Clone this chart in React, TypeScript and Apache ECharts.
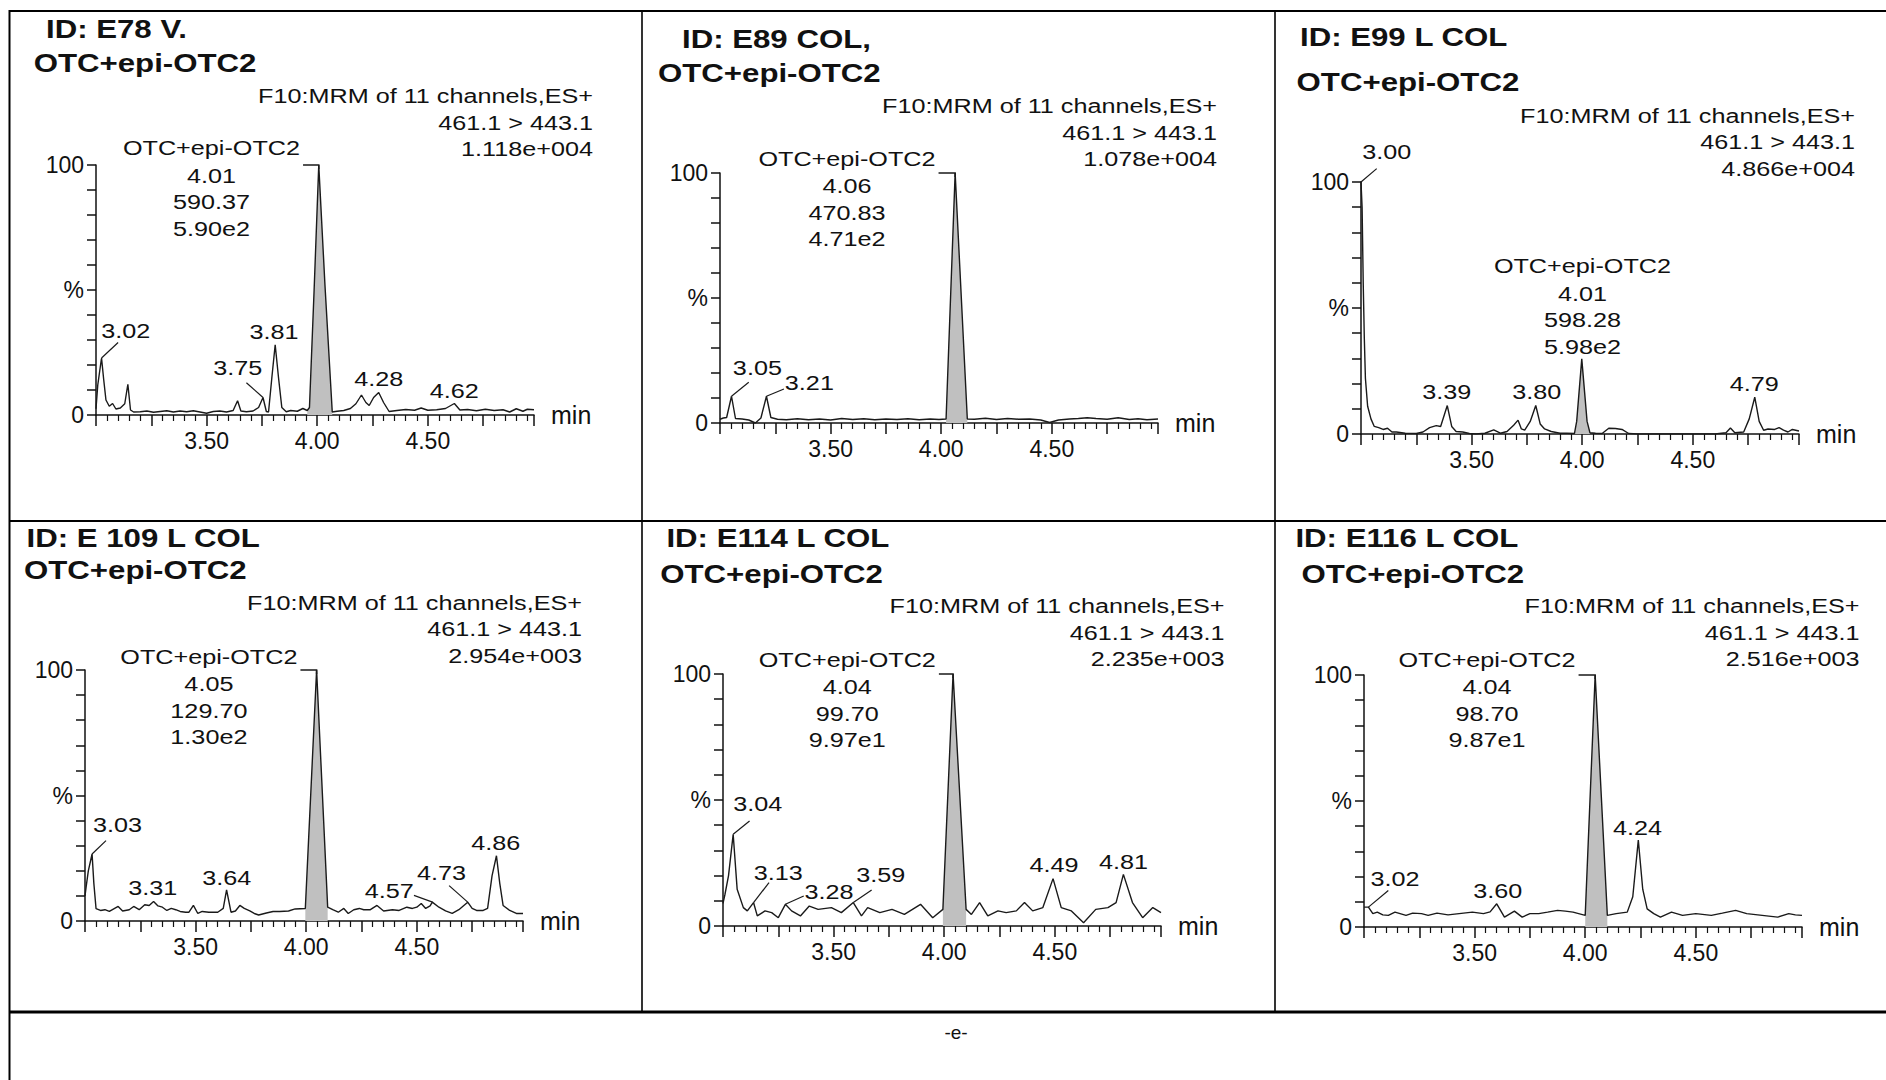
import React, { useEffect, useRef } from "react";
import * as echarts from "echarts";

// ---------- text content ----------
const sampleIds = ["ID: E78 V.", "ID: E89 COL,", "ID: E99 L COL", "ID: E 109 L COL", "ID: E114 L COL", "ID: E116 L COL"];
const compound = "OTC+epi-OTC2";
const headerLine1 = "F10:MRM of 11 channels,ES+";
const headerLine2 = "461.1 > 443.1";
const intensities = ["1.118e+004", "1.078e+004", "4.866e+004", "2.954e+003", "2.235e+003", "2.516e+003"];
const mainRT = ["4.01", "4.06", "4.01", "4.05", "4.04", "4.04"];
const mainArea = ["590.37", "470.83", "598.28", "129.70", "99.70", "98.70"];
const mainHeight = ["5.90e2", "4.71e2", "5.98e2", "1.30e2", "9.97e1", "9.87e1"];
const footerText = "-e-";

// ---------- axes ----------
const X_MIN = 3.0;
const X_MAX = 4.98;
const xLabelValues = [3.5, 4.0, 4.5];
const yLabelValues: [number, string][] = [[0, "0"], [50, "%"], [100, "100"]];

// ---------- traces: [time (min), % of max] ----------
const trace1 = [
  [3.0, 2.5], [3.008, 12], [3.025, 22.8], [3.035, 14], [3.045, 6], [3.06, 3.5], [3.075, 4.6], [3.09, 2.4], [3.11, 2.8],
  [3.13, 4.5], [3.144, 12.3], [3.156, 2], [3.17, 1.2], [3.2, 1.3], [3.23, 1.6], [3.26, 1.1], [3.29, 1.4], [3.32, 1.7],
  [3.35, 1.2], [3.38, 1.6], [3.41, 1.3], [3.44, 1.7], [3.47, 1.2], [3.5, 0.7], [3.53, 1.4], [3.56, 1.6], [3.59, 1.2],
  [3.62, 1.8], [3.64, 5.7], [3.655, 1.6], [3.68, 1.3], [3.71, 1.6], [3.735, 3], [3.755, 7], [3.77, 1.4], [3.78, 1.2],
  [3.795, 15], [3.81, 28.1], [3.825, 15], [3.84, 3], [3.86, 1.3], [3.88, 1.8], [3.91, 1.5], [3.935, 2.6], [3.955, 1.8],
  [3.965, 3], [3.986, 50], [4.007, 100], [4.035, 52], [4.068, 1.2], [4.09, 1.5], [4.12, 1.8], [4.15, 2.6], [4.175, 4.5],
  [4.2, 8], [4.22, 5], [4.235, 3.8], [4.255, 7], [4.278, 9], [4.3, 5], [4.325, 1.4], [4.36, 1.8], [4.4, 2.2], [4.44, 1.9],
  [4.47, 2.8], [4.5, 1.9], [4.54, 2.1], [4.58, 2.6], [4.62, 4.6], [4.645, 2], [4.68, 2.2], [4.72, 1.7], [4.76, 2.3],
  [4.8, 1.8], [4.84, 2.1], [4.87, 1.2], [4.9, 2.5], [4.93, 1.5], [4.95, 2.3], [4.98, 2.1],
];
const trace2 = [
  [3.0, 1.5], [3.015, 2], [3.03, 2.2], [3.052, 10.7], [3.07, 1.8], [3.1, 1.6], [3.13, 1.2], [3.16, 0], [3.185, 2],
  [3.21, 10.7], [3.23, 2.2], [3.26, 1.5], [3.3, 1.3], [3.35, 1.7], [3.4, 1.3], [3.45, 1.6], [3.5, 1.2], [3.55, 1.8],
  [3.6, 1.4], [3.65, 1.7], [3.7, 1.3], [3.75, 1.6], [3.8, 1.4], [3.85, 1.7], [3.9, 1.3], [3.95, 1.6], [3.99, 1.4],
  [4.022, 1.6], [4.063, 100], [4.118, 1.6], [4.15, 1.5], [4.2, 1.9], [4.25, 1.4], [4.3, 1.8], [4.35, 1.5], [4.4, 1.6],
  [4.45, 1.2], [4.49, 0.2], [4.53, 1.2], [4.58, 1.6], [4.62, 1.8], [4.66, 2.1], [4.7, 1.8], [4.75, 1.5], [4.8, 2.1],
  [4.85, 1.4], [4.89, 1.7], [4.93, 1.3], [4.98, 1.6],
];
const trace3 = [
  [3.0, 100], [3.005, 90], [3.01, 60], [3.015, 38], [3.02, 22], [3.03, 11], [3.045, 6], [3.06, 3], [3.08, 2.5],
  [3.1, 1.8], [3.12, 2.3], [3.14, 0.8], [3.16, 0.8], [3.2, 0.3], [3.25, 0.2], [3.28, 0.8], [3.31, 2.5], [3.34, 3.3],
  [3.36, 3], [3.39, 11.3], [3.41, 3], [3.43, 1], [3.46, 0.8], [3.49, 0.2], [3.52, 0], [3.56, 0.3], [3.6, 1.6],
  [3.63, 0.3], [3.66, 1], [3.69, 3.5], [3.71, 5.5], [3.725, 2], [3.74, 1.5], [3.765, 5], [3.79, 11.3], [3.81, 4],
  [3.83, 2], [3.86, 1], [3.9, 0.3], [3.93, 0.3], [3.965, 0.2], [3.975, 5], [3.998, 29.8], [4.022, 5], [4.035, 0.5],
  [4.06, 0.3], [4.09, 0.2], [4.12, 2.3], [4.15, 2.2], [4.18, 1.8], [4.21, 0.2], [4.25, 0], [4.3, 0], [4.4, 0],
  [4.5, 0], [4.6, 0], [4.65, 0.5], [4.67, 2.4], [4.69, 0.5], [4.73, 0.8], [4.755, 6], [4.78, 14.6], [4.8, 5],
  [4.82, 1.5], [4.84, 2], [4.87, 1.8], [4.89, 2.5], [4.91, 1.5], [4.93, 0.8], [4.95, 1.8], [4.98, 1.2],
];
const trace4 = [
  [3.0, 10], [3.005, 13.5], [3.015, 20], [3.032, 26.7], [3.04, 15], [3.05, 4.9], [3.07, 4.2], [3.09, 4.5], [3.11, 3.8],
  [3.13, 4.8], [3.15, 5.8], [3.17, 4], [3.2, 4.5], [3.22, 5.8], [3.245, 4.5], [3.27, 6.5], [3.29, 6.2], [3.31, 7.8],
  [3.33, 6], [3.35, 5.5], [3.37, 4.2], [3.39, 5], [3.41, 4.5], [3.43, 3.8], [3.455, 3.5], [3.47, 3.5], [3.49, 6.2],
  [3.51, 3], [3.53, 3.8], [3.56, 3.5], [3.6, 3.5], [3.625, 5], [3.64, 12.4], [3.66, 3.5], [3.68, 4], [3.7, 6.2],
  [3.72, 5], [3.745, 4], [3.765, 3], [3.785, 2.4], [3.82, 3.2], [3.85, 3.8], [3.88, 3.8], [3.92, 4], [3.95, 4.8],
  [3.996, 5], [4.047, 100], [4.097, 5.5], [4.12, 4.5], [4.145, 3.5], [4.17, 5], [4.19, 3], [4.215, 4.5], [4.24, 5],
  [4.26, 4.5], [4.29, 4.5], [4.32, 6.2], [4.35, 4], [4.39, 4.5], [4.42, 4.2], [4.455, 5.5], [4.48, 5], [4.5, 5.5],
  [4.52, 7], [4.54, 5], [4.56, 6], [4.57, 7.5], [4.6, 5.5], [4.63, 4], [4.66, 3], [4.69, 4.5], [4.71, 6], [4.73, 7.5],
  [4.75, 5], [4.77, 4.2], [4.8, 4.2], [4.82, 5], [4.84, 18], [4.86, 26], [4.875, 15], [4.89, 6.2], [4.92, 4.2],
  [4.95, 3], [4.98, 3],
];
const trace5 = [
  [3.0, 9], [3.009, 12.6], [3.025, 20], [3.046, 36.4], [3.064, 14.6], [3.092, 7.3], [3.11, 6], [3.138, 9.3],
  [3.155, 4], [3.19, 6], [3.22, 5.3], [3.25, 3.3], [3.282, 8.6], [3.31, 6], [3.35, 4], [3.39, 7.9], [3.43, 6.6],
  [3.49, 7.3], [3.535, 5.3], [3.589, 9.3], [3.626, 4], [3.654, 7.3], [3.709, 5.3], [3.764, 6.6], [3.82, 4.6],
  [3.893, 8.6], [3.948, 3.3], [3.994, 6.6], [4.04, 100], [4.099, 6.6], [4.123, 4.6], [4.16, 9.3], [4.197, 4],
  [4.243, 6], [4.28, 5.3], [4.326, 6], [4.363, 9.3], [4.4, 6], [4.446, 7.3], [4.492, 18.8], [4.529, 7.3],
  [4.575, 6], [4.63, 1.3], [4.685, 6.6], [4.74, 7.3], [4.777, 9.3], [4.81, 20.5], [4.851, 9.3], [4.897, 3.3],
  [4.943, 7.3], [4.98, 5.3],
];
const trace6 = [
  [3.0, 7.9], [3.02, 7.9], [3.04, 5.3], [3.06, 5.9], [3.085, 4.8], [3.11, 4.6], [3.14, 5.9], [3.19, 4.6], [3.22, 5.5],
  [3.26, 5.3], [3.29, 4.6], [3.33, 5.5], [3.38, 4.8], [3.43, 5.3], [3.49, 5.9], [3.54, 5.3], [3.57, 6], [3.6, 9.2],
  [3.635, 3.9], [3.68, 6.3], [3.715, 3.9], [3.75, 5.3], [3.79, 5.3], [3.83, 5.9], [3.875, 6.6], [3.91, 6.3],
  [3.945, 5.9], [4.0, 4.6], [4.045, 100], [4.1, 4.6], [4.14, 5.3], [4.19, 5.9], [4.215, 12], [4.24, 34.5],
  [4.26, 15], [4.28, 7.2], [4.31, 5.3], [4.34, 3.9], [4.39, 5.9], [4.44, 4.6], [4.5, 5.3], [4.57, 4.6], [4.62, 5.5],
  [4.68, 6.6], [4.73, 5.3], [4.8, 4.6], [4.87, 3.9], [4.92, 5.3], [4.95, 4.8], [4.98, 4.6],
];
const traces = [trace1, trace2, trace3, trace4, trace5, trace6];

// integrated (shaded) peak range per panel, min
const fillRanges = [[3.955, 4.068], [4.022, 4.118], [3.965, 4.035], [3.996, 4.097], [3.994, 4.099], [4.0, 4.1]];
const mainPeakX = [4.007, 4.063, 3.998, 4.047, 4.04, 4.045];

// small peak annotations: text, label centre [t, %], optional leader from/to [t, %]
type PeakLabel = { text: string; at: number[]; from?: number[]; to?: number[] };
const peaks1: PeakLabel[] = [
  { text: "3.02", at: [3.134, 33.6], from: [3.025, 22.8], to: [3.1, 29] },
  { text: "3.81", at: [3.805, 33.2] },
  { text: "3.75", at: [3.641, 18.8], from: [3.755, 7], to: [3.68, 12.9] },
  { text: "4.28", at: [4.278, 14.4] },
  { text: "4.62", at: [4.62, 9.6] },
];
const peaks2: PeakLabel[] = [
  { text: "3.05", at: [3.169, 22.1], from: [3.052, 10.7], to: [3.13, 16.3] },
  { text: "3.21", at: [3.404, 15.9], from: [3.21, 10.7], to: [3.289, 13.6] },
];
const peaks3: PeakLabel[] = [
  { text: "3.00", at: [3.116, 111.9], from: [3.0, 100], to: [3.071, 105.3] },
  { text: "3.39", at: [3.388, 16.7] },
  { text: "3.80", at: [3.794, 16.7] },
  { text: "4.79", at: [4.778, 20] },
];
const peaks4: PeakLabel[] = [
  { text: "3.03", at: [3.147, 38.3], from: [3.032, 26.7], to: [3.095, 32] },
  { text: "3.31", at: [3.306, 13.4] },
  { text: "3.64", at: [3.641, 17.2] },
  { text: "4.57", at: [4.375, 11.9], from: [4.571, 7.5], to: [4.487, 10.2] },
  { text: "4.73", at: [4.612, 19.1], from: [4.73, 7.5], to: [4.646, 14.1] },
  { text: "4.86", at: [4.857, 31] },
];
const peaks5: PeakLabel[] = [
  { text: "3.04", at: [3.157, 48.4], from: [3.046, 36.4], to: [3.12, 41.7] },
  { text: "3.13", at: [3.25, 21.1], from: [3.138, 9.3], to: [3.208, 17.2] },
  { text: "3.28", at: [3.479, 13.5], from: [3.282, 8.6], to: [3.365, 11.9] },
  { text: "3.59", at: [3.713, 20.3], from: [3.589, 9.3], to: [3.672, 14.3] },
  { text: "4.49", at: [4.496, 24.3] },
  { text: "4.81", at: [4.81, 25.5] },
];
const peaks6: PeakLabel[] = [
  { text: "3.02", at: [3.14, 19.2], from: [3.02, 7.9], to: [3.11, 14.5] },
  { text: "3.60", at: [3.605, 14.4] },
  { text: "4.24", at: [4.236, 39.3] },
];
const peakLabels = [peaks1, peaks2, peaks3, peaks4, peaks5, peaks6];

// main-peak annotation block centre [t, %] and whether a bracket joins it to the peak
const mainLabelAt = [[3.522, 106.7], [3.574, 105.8], [4.001, 66.7], [3.56, 105.3], [3.562, 105.7], [3.556, 106.2]];
const mainBracket = [true, true, false, true, true, true];

// ---------- layout (pixels) ----------
const gridBoxes = [
  { left: 96, top: 165, width: 438, height: 250 },
  { left: 720, top: 173, width: 438, height: 250 },
  { left: 1361, top: 182, width: 438, height: 252 },
  { left: 85, top: 670, width: 438, height: 251 },
  { left: 723, top: 674, width: 438, height: 252 },
  { left: 1364, top: 675, width: 438, height: 252 },
];
const idPos = [[46, 29], [682, 38.5], [1300, 37.3], [26.5, 537.7], [666.4, 537.7], [1295.4, 537.7]];
const namePos = [[33.7, 62.5], [658, 73.4], [1296.6, 81.8], [24, 570.1], [660.3, 573.7], [1301.4, 573.7]];
const headerPos = [[593, 96.2], [1217, 105.8], [1855, 115.5], [582, 602.6], [1224.5, 606.2], [1859.5, 606.2]];
const tableLines = [
  [9, 11, 1886, 11, 2],
  [9.5, 10, 9.5, 1080, 2],
  [642, 11, 642, 1012, 1.6],
  [1275, 11, 1275, 1012, 1.6],
  [9, 521, 1886, 521, 1.8],
  [9, 1012, 1886, 1012, 3],
];

const FONT = "'Liberation Sans', Arial, Helvetica, sans-serif";
const INK = "#111";
const SX = 1.2;
const REG = 21;
const BOLD = 26;

function textEl(x: number, y: number, text: string, size: number, align = "left", weight = "normal", sx = SX) {
  return {
    type: "text",
    x,
    y,
    scaleX: sx,
    silent: true,
    z: 20,
    style: {
      text,
      x: 0,
      y: 0,
      fill: INK,
      font: `${weight} ${size}px ${FONT}`,
      textAlign: align,
      textVerticalAlign: "middle",
    },
  };
}

function measure(text: string, size: number) {
  const c = document.createElement("canvas").getContext("2d");
  if (!c) return text.length * size * 0.55;
  c.font = `${size}px ${FONT}`;
  return c.measureText(text).width;
}

function buildOption() {
  const grid = gridBoxes.map((g) => ({ ...g, outerBoundsMode: "none" }));
  const xAxis = gridBoxes.map((_, i) => ({
    type: "value",
    gridIndex: i,
    min: X_MIN,
    max: X_MAX,
    interval: 0.25,
    axisLine: { show: true, onZero: false, lineStyle: { color: INK, width: 1.5 } },
    axisTick: { show: true, length: 11, lineStyle: { color: INK, width: 1.5 } },
    minorTick: { show: true, splitNumber: 5, length: 6, lineStyle: { color: INK, width: 1.2 } },
    splitLine: { show: false },
    minorSplitLine: { show: false },
    axisLabel: {
      show: true,
      margin: 14,
      fontSize: 23,
      fontFamily: FONT,
      color: INK,
      hideOverlap: false,
      showMinLabel: true,
      showMaxLabel: true,
      formatter: (v: number) => (xLabelValues.some((t) => Math.abs(t - v) < 1e-6) ? v.toFixed(2) : ""),
    },
    name: "min",
    nameLocation: "end",
    nameGap: 17,
    nameTextStyle: { fontSize: 25, fontFamily: FONT, color: INK, align: "left", verticalAlign: "middle" },
  }));
  const yAxis = gridBoxes.map((_, i) => ({
    type: "value",
    gridIndex: i,
    min: 0,
    max: 100,
    interval: 10,
    axisLine: { show: true, onZero: false, lineStyle: { color: INK, width: 1.5 } },
    axisTick: { show: true, length: 9, lineStyle: { color: INK, width: 1.5 } },
    splitLine: { show: false },
    axisLabel: {
      show: true,
      margin: 12,
      fontSize: 23,
      fontFamily: FONT,
      color: INK,
      formatter: (v: number) => {
        const hit = yLabelValues.find(([val]) => Math.abs(val - v) < 1e-6);
        return hit ? hit[1] : "";
      },
    },
  }));
  const series: any[] = [];
  traces.forEach((tr, i) => {
    const [a, b] = fillRanges[i];
    series.push({
      type: "line",
      xAxisIndex: i,
      yAxisIndex: i,
      data: tr.filter((p) => p[0] >= a - 1e-9 && p[0] <= b + 1e-9),
      symbol: "none",
      silent: true,
      z: 1,
      lineStyle: { opacity: 0 },
      areaStyle: { color: "#c0c0c0", opacity: 1, origin: "start" },
    });
    series.push({
      type: "line",
      xAxisIndex: i,
      yAxisIndex: i,
      data: tr,
      symbol: "none",
      z: 3,
      lineStyle: { color: "#1a1a1a", width: 1.4 },
    });
  });
  return { animation: false, backgroundColor: "#fff", grid, xAxis, yAxis, series };
}

function buildGraphics(chart: any) {
  const g: any[] = [];
  tableLines.forEach(([x1, y1, x2, y2, w]) =>
    g.push({ type: "line", silent: true, shape: { x1, y1, x2, y2 }, style: { stroke: "#000", lineWidth: w } })
  );
  g.push(textEl(956, 1032, footerText, 19, "center", "normal", 1));
  const nameHalf = (measure(compound, REG) * SX) / 2;

  gridBoxes.forEach((_, i) => {
    const px = (p: number[]) => chart.convertToPixel({ gridIndex: i }, p) as number[];
    g.push(textEl(idPos[i][0], idPos[i][1], sampleIds[i], BOLD, "left", "bold"));
    g.push(textEl(namePos[i][0], namePos[i][1], compound, BOLD, "left", "bold"));
    [headerLine1, headerLine2, intensities[i]].forEach((t, k) =>
      g.push(textEl(headerPos[i][0], headerPos[i][1] + k * 26.5, t, REG, "right"))
    );

    const c = px(mainLabelAt[i]);
    g.push(textEl(c[0], c[1], compound, REG, "center"));
    [mainRT[i], mainArea[i], mainHeight[i]].forEach((t, k) =>
      g.push(textEl(c[0], c[1] + 27.5 + k * 26.5, t, REG, "center"))
    );
    if (mainBracket[i]) {
      const top = px([mainPeakX[i], 100]);
      g.push({
        type: "polyline",
        silent: true,
        z: 15,
        shape: { points: [[c[0] + nameHalf + 3, top[1]], [top[0], top[1]], [top[0], top[1] + 4]] },
        style: { stroke: "#1a1a1a", lineWidth: 1.5, fill: null },
      });
    }

    peakLabels[i].forEach((pl) => {
      const p = px(pl.at);
      g.push(textEl(p[0], p[1], pl.text, REG, "center"));
      if (pl.from && pl.to) {
        const f = px(pl.from);
        const t = px(pl.to);
        g.push({
          type: "line",
          silent: true,
          z: 15,
          shape: { x1: f[0], y1: f[1], x2: t[0], y2: t[1] },
          style: { stroke: "#1a1a1a", lineWidth: 1.2 },
        });
      }
    });
  });
  return g;
}

export default function App() {
  const ref = useRef<HTMLDivElement>(null);
  useEffect(() => {
    if (!ref.current) return;
    document.body.style.margin = "0";
    document.body.style.overflow = "hidden";
    const chart = echarts.init(ref.current, null, { renderer: "svg" });
    chart.setOption(buildOption() as any);
    chart.setOption({ graphic: buildGraphics(chart) } as any);
    return () => chart.dispose();
  }, []);
  return (
    <div
      ref={ref}
      style={{ position: "absolute", left: 0, top: 0, width: 1886, height: 1080, background: "#fff" }}
    />
  );
}
